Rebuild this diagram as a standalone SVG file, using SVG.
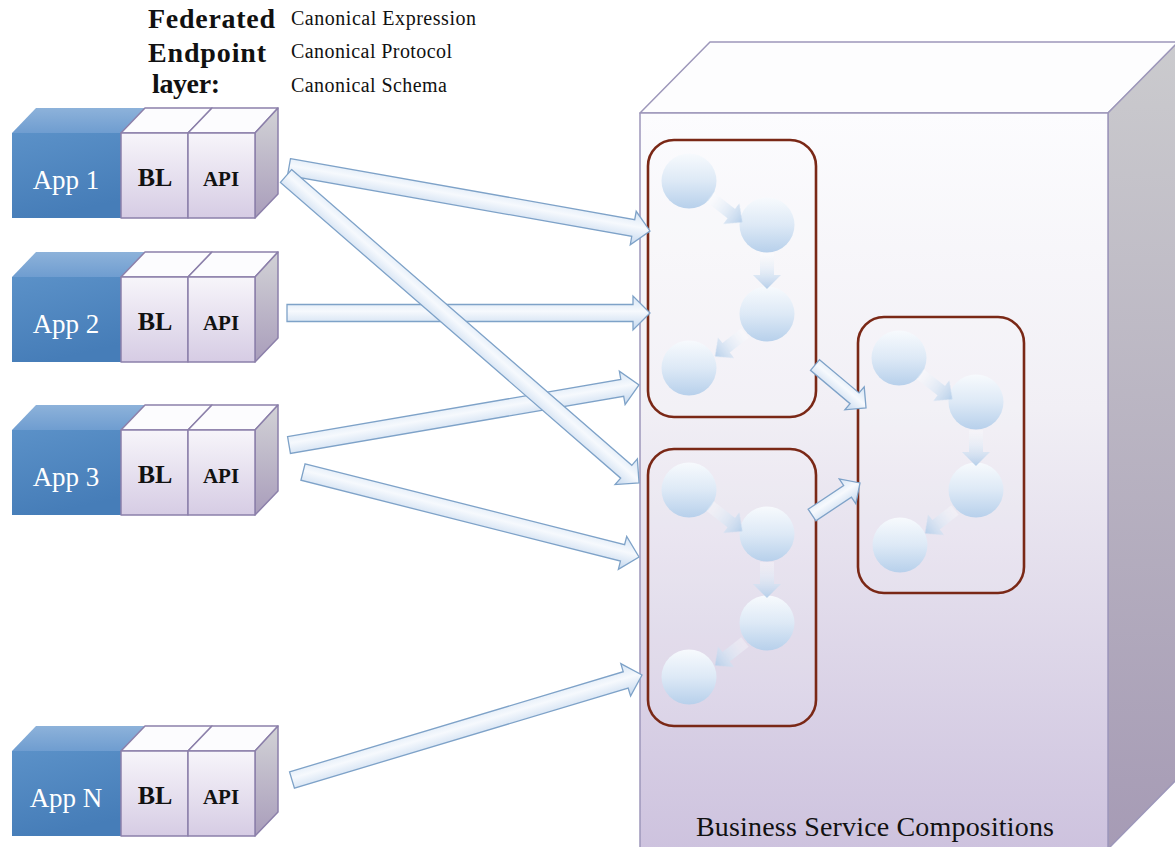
<svg xmlns="http://www.w3.org/2000/svg" width="1175" height="847" viewBox="0 0 1175 847">
<defs>
<linearGradient id="cubeFront" x1="0" y1="0" x2="0" y2="1">
<stop offset="0" stop-color="#fcfcfe"/>
<stop offset="0.4" stop-color="#f1eff5"/>
<stop offset="1" stop-color="#cdc2de"/>
</linearGradient>
<linearGradient id="cubeSide" x1="0" y1="0" x2="0" y2="1">
<stop offset="0" stop-color="#cbcbce"/>
<stop offset="1" stop-color="#a69bb5"/>
</linearGradient>
<linearGradient id="blueFront" x1="0" y1="0" x2="0.3" y2="1">
<stop offset="0" stop-color="#5b91c8"/>
<stop offset="1" stop-color="#467db8"/>
</linearGradient>
<linearGradient id="blueTop" x1="0" y1="0" x2="0" y2="1">
<stop offset="0" stop-color="#8db2da"/>
<stop offset="1" stop-color="#6f9dd0"/>
</linearGradient>
<linearGradient id="lilFront" x1="0" y1="0" x2="0" y2="1">
<stop offset="0" stop-color="#f7f5fa"/>
<stop offset="1" stop-color="#d6cce4"/>
</linearGradient>
<linearGradient id="lilSide" x1="0" y1="0" x2="0" y2="1">
<stop offset="0" stop-color="#d2d2d6"/>
<stop offset="1" stop-color="#a99dbb"/>
</linearGradient>
<linearGradient id="bigArrow" x1="0" y1="0" x2="0" y2="1">
<stop offset="0" stop-color="#d6e5f5"/>
<stop offset="0.45" stop-color="#f6f9fd"/>
<stop offset="1" stop-color="#c3d7ee"/>
</linearGradient>
<linearGradient id="ball" x1="0" y1="0" x2="0" y2="1">
<stop offset="0" stop-color="#f7fafd"/>
<stop offset="0.5" stop-color="#dde9f6"/>
<stop offset="1" stop-color="#b7d0eb"/>
</linearGradient>
<linearGradient id="flow" x1="0" y1="0" x2="1" y2="0">
<stop offset="0" stop-color="#ffffff" stop-opacity="0.3"/>
<stop offset="1" stop-color="#b6cfea"/>
</linearGradient>
<filter id="soft" x="-10%" y="-10%" width="120%" height="120%">
<feGaussianBlur stdDeviation="0.7"/>
</filter>
</defs>
<style>
.edge{stroke:#8c80aa;stroke-width:1.5;stroke-linejoin:round}
.cube{stroke:#9d97ba;stroke-width:1.5;stroke-linejoin:round}
.barrow{fill:url(#bigArrow);stroke:#7ea2c8;stroke-width:1.3;stroke-linejoin:miter}
.ball{fill:url(#ball);filter:url(#soft)}
.flow{fill:url(#flow);filter:url(#soft)}
.comp{fill:#ffffff;fill-opacity:0.12;stroke:#7a2816;stroke-width:2.6}
.app{font-family:"Liberation Serif",serif;font-size:27px;fill:#ffffff;text-anchor:middle}
.bl{font-family:"Liberation Serif",serif;font-size:26px;font-weight:bold;fill:#111;text-anchor:middle}
.api{font-family:"Liberation Serif",serif;font-size:21px;font-weight:bold;fill:#111;text-anchor:middle}
.head{font-family:"Liberation Serif",serif;font-size:28px;font-weight:bold;fill:#111}
.canon{font-family:"Liberation Serif",serif;font-size:20px;fill:#111}
.title{font-family:"Liberation Serif",serif;font-size:28px;fill:#111}
</style>

<g id="heading">
<text class="head" x="148" y="28" textLength="127" lengthAdjust="spacing">Federated</text>
<text class="head" x="148" y="62" textLength="118" lengthAdjust="spacing">Endpoint</text>
<text class="head" x="152" y="93" textLength="68" lengthAdjust="spacing">layer:</text>
<text class="canon" x="291" y="25" textLength="185" lengthAdjust="spacing">Canonical Expression</text>
<text class="canon" x="291" y="58" textLength="161" lengthAdjust="spacing">Canonical Protocol</text>
<text class="canon" x="291" y="92" textLength="156" lengthAdjust="spacing">Canonical Schema</text>
</g>

<g id="business-service-compositions">
<polygon class="cube" points="640,113 710,42 1180,42 1108,113" fill="#fdfdfe"/>
<polygon class="cube" points="1108,113 1180,40 1180,776 1108,849" fill="url(#cubeSide)"/>
<rect class="cube" x="640" y="113" width="468" height="740" fill="url(#cubeFront)"/>
<text class="title" x="696" y="836" textLength="358" lengthAdjust="spacing">Business Service Compositions</text>
</g>

<g id="composition-a">
<rect class="comp" x="648" y="140" width="168" height="277" rx="26"/>
<circle class="ball" cx="689" cy="181" r="27.5"/>
<circle class="ball" cx="767" cy="225" r="27.5"/>
<circle class="ball" cx="767" cy="314" r="27.5"/>
<circle class="ball" cx="689" cy="368" r="27.5"/>
<path class="flow" transform="translate(710,197) rotate(38)" d="M0,-6 H27 V-13 L41,0 L27,13 V6 H0 Z"/>
<path class="flow" transform="translate(767,253) rotate(90)" d="M0,-7 H22 V-14 L36,0 L22,14 V7 H0 Z"/>
<path class="flow" transform="translate(745,333) rotate(142)" d="M0,-6 H24 V-13 L38,0 L24,13 V6 H0 Z"/>
</g>

<g id="composition-b" transform="translate(0,309)">
<rect class="comp" x="648" y="140" width="168" height="277" rx="26"/>
<circle class="ball" cx="689" cy="181" r="27.5"/>
<circle class="ball" cx="767" cy="225" r="27.5"/>
<circle class="ball" cx="767" cy="314" r="27.5"/>
<circle class="ball" cx="689" cy="368" r="27.5"/>
<path class="flow" transform="translate(710,197) rotate(38)" d="M0,-6 H27 V-13 L41,0 L27,13 V6 H0 Z"/>
<path class="flow" transform="translate(767,253) rotate(90)" d="M0,-7 H22 V-14 L36,0 L22,14 V7 H0 Z"/>
<path class="flow" transform="translate(745,333) rotate(142)" d="M0,-6 H24 V-13 L38,0 L24,13 V6 H0 Z"/>
</g>

<g id="composition-c" transform="translate(210,177)">
<rect class="comp" x="648" y="140" width="166" height="276" rx="26"/>
<circle class="ball" cx="689" cy="181" r="27.5"/>
<circle class="ball" cx="766" cy="225" r="27.5"/>
<circle class="ball" cx="766" cy="313" r="27.5"/>
<circle class="ball" cx="690" cy="368" r="27.5"/>
<path class="flow" transform="translate(710,197) rotate(38)" d="M0,-6 H27 V-13 L41,0 L27,13 V6 H0 Z"/>
<path class="flow" transform="translate(766,253) rotate(90)" d="M0,-7 H22 V-14 L36,0 L22,14 V7 H0 Z"/>
<path class="flow" transform="translate(745,333) rotate(142)" d="M0,-6 H24 V-13 L38,0 L24,13 V6 H0 Z"/>
</g>

<g id="app-1" transform="translate(0,133)">
<polygon points="12,0 36,-25 145,-25 121,0" fill="url(#blueTop)"/>
<rect x="12" y="0" width="109" height="85" fill="url(#blueFront)"/>
<polygon class="edge" points="121,0 145,-25 212,-25 188,0" fill="#fcfcfe"/>
<polygon class="edge" points="188,0 212,-25 278,-25 255,0" fill="#fcfcfe"/>
<polygon class="edge" points="255,0 278,-25 278,61 255,85" fill="url(#lilSide)"/>
<rect class="edge" x="121" y="0" width="67" height="85" fill="url(#lilFront)"/>
<rect class="edge" x="188" y="0" width="67" height="85" fill="url(#lilFront)"/>
<text class="app" x="66" y="56">App 1</text>
<text class="bl" x="155" y="53">BL</text>
<text class="api" x="221" y="53">API</text>
</g>

<g id="app-2" transform="translate(0,277)">
<polygon points="12,0 36,-25 145,-25 121,0" fill="url(#blueTop)"/>
<rect x="12" y="0" width="109" height="85" fill="url(#blueFront)"/>
<polygon class="edge" points="121,0 145,-25 212,-25 188,0" fill="#fcfcfe"/>
<polygon class="edge" points="188,0 212,-25 278,-25 255,0" fill="#fcfcfe"/>
<polygon class="edge" points="255,0 278,-25 278,61 255,85" fill="url(#lilSide)"/>
<rect class="edge" x="121" y="0" width="67" height="85" fill="url(#lilFront)"/>
<rect class="edge" x="188" y="0" width="67" height="85" fill="url(#lilFront)"/>
<text class="app" x="66" y="56">App 2</text>
<text class="bl" x="155" y="53">BL</text>
<text class="api" x="221" y="53">API</text>
</g>

<g id="app-3" transform="translate(0,430)">
<polygon points="12,0 36,-25 145,-25 121,0" fill="url(#blueTop)"/>
<rect x="12" y="0" width="109" height="85" fill="url(#blueFront)"/>
<polygon class="edge" points="121,0 145,-25 212,-25 188,0" fill="#fcfcfe"/>
<polygon class="edge" points="188,0 212,-25 278,-25 255,0" fill="#fcfcfe"/>
<polygon class="edge" points="255,0 278,-25 278,61 255,85" fill="url(#lilSide)"/>
<rect class="edge" x="121" y="0" width="67" height="85" fill="url(#lilFront)"/>
<rect class="edge" x="188" y="0" width="67" height="85" fill="url(#lilFront)"/>
<text class="app" x="66" y="56">App 3</text>
<text class="bl" x="155" y="53">BL</text>
<text class="api" x="221" y="53">API</text>
</g>

<g id="app-n" transform="translate(0,751)">
<polygon points="12,0 36,-25 145,-25 121,0" fill="url(#blueTop)"/>
<rect x="12" y="0" width="109" height="85" fill="url(#blueFront)"/>
<polygon class="edge" points="121,0 145,-25 212,-25 188,0" fill="#fcfcfe"/>
<polygon class="edge" points="188,0 212,-25 278,-25 255,0" fill="#fcfcfe"/>
<polygon class="edge" points="255,0 278,-25 278,61 255,85" fill="url(#lilSide)"/>
<rect class="edge" x="121" y="0" width="67" height="85" fill="url(#lilFront)"/>
<rect class="edge" x="188" y="0" width="67" height="85" fill="url(#lilFront)"/>
<text class="app" x="66" y="56">App N</text>
<text class="bl" x="155" y="53">BL</text>
<text class="api" x="221" y="53">API</text>
</g>

<g id="connectors">
<path class="barrow" transform="translate(289,167) rotate(10.05)" d="M0,-8.5 H349.6 V-17 L366.6,0 L349.6,17 V8.5 H0 Z"/>
<path class="barrow" transform="translate(287,313)" d="M0,-8.5 H346 V-17 L363,0 L346,17 V8.5 H0 Z"/>
<path class="barrow" transform="translate(289,445) rotate(-9.73)" d="M0,-8.5 H338.1 V-17 L355.1,0 L338.1,17 V8.5 H0 Z"/>
<path class="barrow" transform="translate(303,472) rotate(14.2)" d="M0,-8.5 H329.6 V-17 L346.6,0 L329.6,17 V8.5 H0 Z"/>
<path class="barrow" transform="translate(292,780) rotate(-16.7)" d="M0,-8.5 H348.4 V-17 L365.4,0 L348.4,17 V8.5 H0 Z"/>
<path class="barrow" transform="translate(286,176) rotate(41.0)" d="M0,-8.5 H450.8 V-17 L467.8,0 L450.8,17 V8.5 H0 Z"/>
<path class="barrow" transform="translate(815,365) rotate(40.1)" d="M0,-7 H51.7 V-15 L66.7,0 L51.7,15 V7 H0 Z"/>
<path class="barrow" transform="translate(812,515) rotate(-33.7)" d="M0,-7 H42.7 V-15 L57.7,0 L42.7,15 V7 H0 Z"/>
</g>
</svg>
